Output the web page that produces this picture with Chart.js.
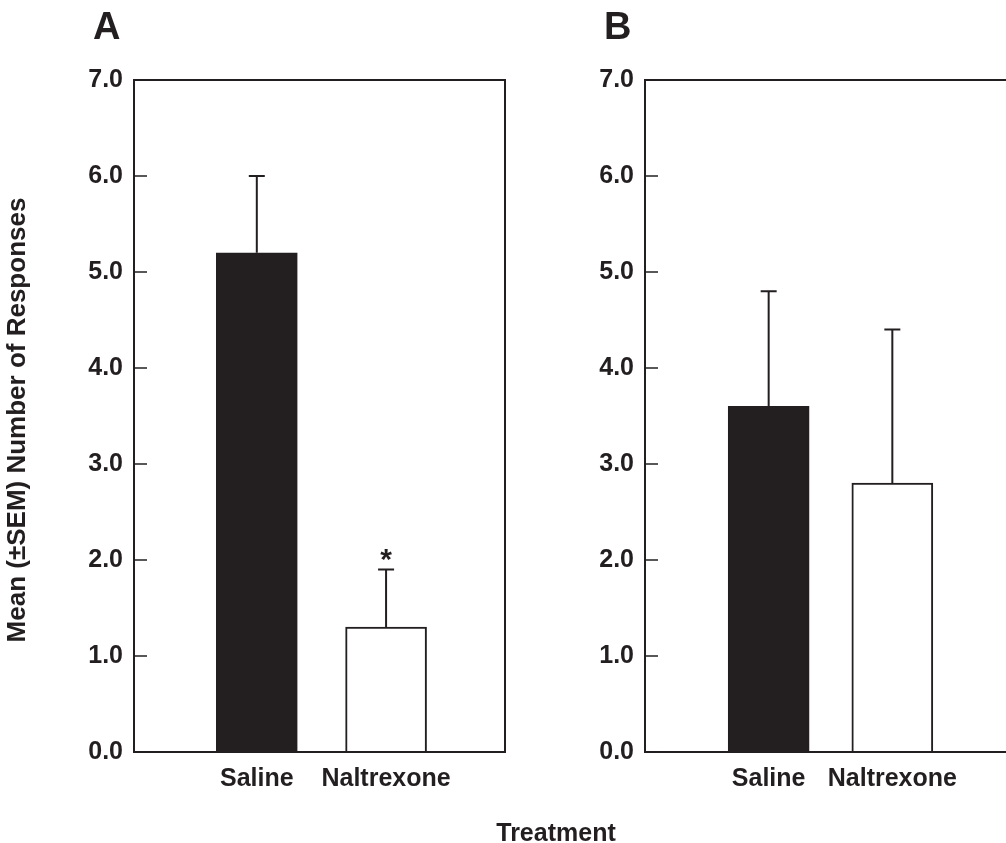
<!DOCTYPE html>
<html>
<head>
<meta charset="utf-8">
<script src="https://cdn.jsdelivr.net/npm/chart.js@4.4.1/dist/chart.umd.min.js"></script>
<style>
  body { margin: 0; width: 1006px; height: 843px; overflow: hidden; background: #fff; position: relative; }
  canvas { position: absolute; top: 0; }
  .txt { position: absolute; font-family: 'Liberation Sans', Arial, sans-serif; font-weight: bold; color: #231f20; white-space: nowrap; }
</style>
</head>
<body>
<canvas id="chart-a" width="540" height="843" style="left:0px"></canvas>
<canvas id="chart-b" width="520" height="843" style="left:520px"></canvas>

<div class="txt" style="left:93px; top:7px; font-size:38px; line-height:38px;">A</div>
<div class="txt" style="left:604px; top:7px; font-size:38px; line-height:38px;">B</div>
<div class="txt" style="left:456px; top:820px; width:200px; text-align:center; font-size:25px; line-height:25px;">Treatment</div>
<div class="txt" style="left:-234px; top:405px; width:500px; height:30px; text-align:center; font-size:26px; line-height:30px; transform:rotate(-90deg);">Mean (±SEM) Number of Responses</div>

<script>
// data
const categories = ['Saline', 'Naltrexone'];
const xPositions = [1, 2];
const yTicks = [0, 1, 2, 3, 4, 5, 6, 7];

const panelAMeans = [5.2, 1.3];
const panelASem = [0.8, 0.6];
const panelAMarks = ['', '*'];

const panelBMeans = [3.6, 2.8];
const panelBSem = [1.2, 1.6];
const panelBMarks = ['', ''];

const barColors = ['#231f20', '#ffffff'];
const ink = '#231f20';

Chart.defaults.font.family = "'Liberation Sans', Arial, sans-serif";
Chart.defaults.font.weight = 'bold';
Chart.defaults.font.size = 25;
Chart.defaults.color = ink;

// frame around the plot area plus short inward ticks
const framePlugin = {
  id: 'frame',
  afterDatasetsDraw(chart) {
    const { ctx, chartArea, scales } = chart;
    ctx.save();
    ctx.strokeStyle = ink;
    ctx.lineWidth = 2;
    ctx.strokeRect(chartArea.left, chartArea.top, chartArea.right - chartArea.left, chartArea.bottom - chartArea.top);
    ctx.lineWidth = 1.5;
    scales.y.ticks.forEach(t => {
      const y = scales.y.getPixelForValue(t.value);
      ctx.beginPath();
      ctx.moveTo(chartArea.left, y);
      ctx.lineTo(chartArea.left + 13, y);
      ctx.stroke();
    });
    ctx.restore();
  }
};

// upward-only SEM bars and significance marks
const errorPlugin = {
  id: 'errorBars',
  afterDatasetsDraw(chart, args, opts) {
    const { ctx, scales } = chart;
    const meta = chart.getDatasetMeta(0);
    ctx.save();
    ctx.strokeStyle = ink;
    ctx.lineWidth = 2;
    meta.data.forEach((bar, i) => {
      const top = scales.y.getPixelForValue(opts.means[i] + opts.sem[i]);
      ctx.beginPath();
      ctx.moveTo(bar.x, bar.y);
      ctx.lineTo(bar.x, top);
      ctx.moveTo(bar.x - 8, top);
      ctx.lineTo(bar.x + 8, top);
      ctx.stroke();
      if (opts.marks[i]) {
        ctx.fillStyle = ink;
        ctx.font = "bold 30px 'Liberation Sans', Arial, sans-serif";
        ctx.textAlign = 'center';
        ctx.textBaseline = 'alphabetic';
        ctx.fillText(opts.marks[i], bar.x, top - 1);
      }
    });
    ctx.restore();
  }
};

const makePanel = (id, means, sem, marks, xMin, xMax, axisWidth, padRight) => {
  const ctx = document.getElementById(id).getContext('2d');
  return new Chart(ctx, {
    type: 'bar',
    data: {
      datasets: [{
        data: xPositions.map((x, i) => ({ x: x, y: means[i] })),
        backgroundColor: barColors,
        borderColor: ink,
        borderWidth: 2,
        borderSkipped: 'bottom',
        barThickness: 81
      }]
    },
    options: {
      responsive: false,
      animation: false,
      layout: { padding: { left: 0, right: padRight, top: 80, bottom: 0 } },
      scales: {
        x: {
          type: 'linear',
          offset: false,
          min: xMin,
          max: xMax,
          grid: { display: false, offset: false },
          border: { display: false },
          afterBuildTicks: scale => { scale.ticks = xPositions.map(v => ({ value: v })); },
          afterFit: scale => { scale.height = 843 - 752; },
          ticks: {
            padding: 4,
            callback: v => categories[xPositions.indexOf(v)]
          }
        },
        y: {
          min: 0,
          max: 7,
          grid: { display: false },
          border: { display: false },
          afterBuildTicks: scale => { scale.ticks = yTicks.map(v => ({ value: v })); },
          afterFit: scale => { scale.width = axisWidth; },
          ticks: {
            padding: 3,
            callback: v => v.toFixed(1)
          }
        }
      },
      plugins: {
        legend: { display: false },
        tooltip: { enabled: false },
        errorBars: { means: means, sem: sem, marks: marks }
      }
    },
    plugins: [framePlugin, errorPlugin]
  });
};

makePanel('chart-a', panelAMeans, panelASem, panelAMarks, 0.05, 2.92, 134, 540 - 505);
makePanel('chart-b', panelBMeans, panelBSem, panelBMarks, 0, 3, 125, 520 - 496);
</script>
</body>
</html>
